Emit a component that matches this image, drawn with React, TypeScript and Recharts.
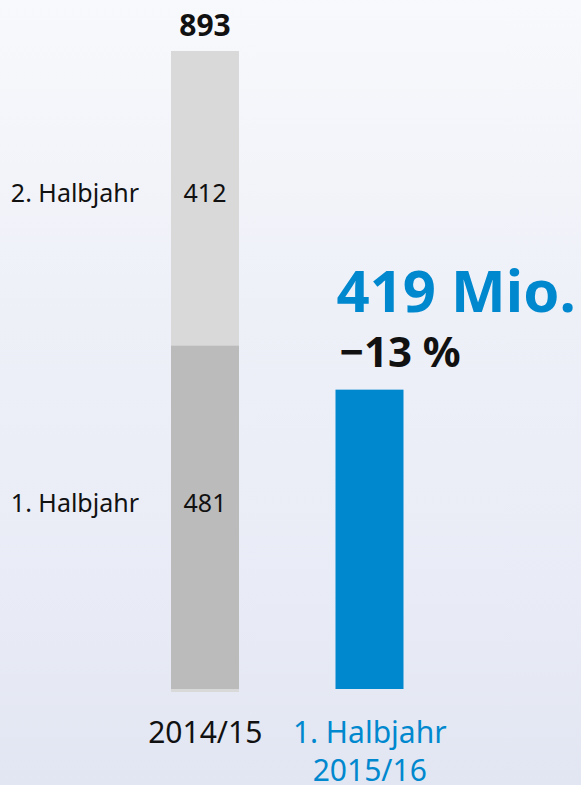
import React from "react";
import { BarChart, Bar, XAxis, YAxis, Cell, LabelList } from "recharts";

const categories = ["2014/15", "1. Halbjahr 2015/16"];
const firstHalf = [481, 419];
const secondHalf = [412, 0];
const totals = [893, 419];
const halfLabels = ["1. Halbjahr", "2. Halbjahr"];
const headline = "419 Mio.";
const change = "\u221213 %";

const data = categories.map((c, i) => ({
  name: c,
  h1: firstHalf[i],
  h2: secondHalf[i],
  total: totals[i],
}));

const FONT = "'Noto Sans', 'Open Sans', sans-serif";
const BLUE = "#0088cf";
const DARK_GRAY = "#bbbbbb";
const LIGHT_GRAY = "#d9d9d9";

const h1Colors = [DARK_GRAY, BLUE];

const Tick = (props: any) => {
  const { x, y, payload, index } = props;
  if (index === 0) {
    return (
      <text x={x} y={y + 54} textAnchor="middle" fontFamily={FONT} fontSize={30} fill="#111">
        {payload.value}
      </text>
    );
  }
  const parts = String(payload.value).split(" ");
  return (
    <g>
      <text x={x} y={y + 54} textAnchor="middle" fontFamily={FONT} fontSize={30} fill={BLUE}>
        {parts.slice(0, 2).join(" ")}
      </text>
      <text x={x} y={y + 92} textAnchor="middle" fontFamily={FONT} fontSize={30} fill={BLUE}>
        {parts.slice(2).join(" ")}
      </text>
    </g>
  );
};

const H1Shape = (props: any) => {
  const { x, y, width, height, fill, index } = props;
  return (
    <g>
      <rect x={x} y={y} width={width} height={height} fill={fill} />
      {index === 0 ? <rect x={x} y={y + height} width={width} height={3} fill={LIGHT_GRAY} /> : null}
    </g>
  );
};

const H1Label = (props: any) => {
  const { x, y, width, height, value, index } = props;
  if (index === 0) {
    const cy = y + height / 2 - 15;
    return (
      <g>
        <text x={x + width / 2} y={cy + 10} textAnchor="middle" fontFamily={FONT} fontSize={25} fill="#111">
          {value}
        </text>
        <text x={x - 32} y={cy + 10} textAnchor="end" fontFamily={FONT} fontSize={25} fill="#111">
          {halfLabels[0]}
        </text>
      </g>
    );
  }
  return (
    <g>
      <text x={x + 1} y={y - 78} textAnchor="start" fontFamily={FONT} fontSize={58} fontWeight="bold" fill={BLUE}>
        {headline}
      </text>
      <text x={x + 4} y={y - 23} textAnchor="start" fontFamily={FONT} fontSize={42} fontWeight="bold" fill="#111">
        {change}
      </text>
    </g>
  );
};

const H2Label = (props: any) => {
  const { x, y, width, height, value, index } = props;
  if (index !== 0) return null;
  const cy = y + height / 2 - 6;
  return (
    <g>
      <text x={x + width / 2} y={cy + 10} textAnchor="middle" fontFamily={FONT} fontSize={25} fill="#111">
        {value}
      </text>
      <text x={x - 32} y={cy + 10} textAnchor="end" fontFamily={FONT} fontSize={25} fill="#111">
        {halfLabels[1]}
      </text>
      <text x={x + width / 2} y={y - 15} textAnchor="middle" fontFamily={FONT} fontSize={30} fontWeight="bold" fill="#111">
        {totals[0]}
      </text>
    </g>
  );
};

export default function App() {
  return (
    <div
      style={{
        position: "absolute",
        left: 0,
        top: 0,
        width: 581,
        height: 785,
        background: "linear-gradient(to bottom, #f8f9fc 0%, #eef0f8 40%, #e9ecf6 75%, #e2e6f2 100%)",
        overflow: "hidden",
      }}
    >
      <BarChart
        width={581}
        height={785}
        data={data}
        margin={{ top: 51, right: 129, bottom: 0, left: 123 }}
        barCategoryGap={0}
      >
        <YAxis hide domain={[0, 893]} />
        <XAxis
          dataKey="name"
          axisLine={false}
          tickLine={false}
          tickSize={0}
          tickMargin={0}
          height={96}
          interval={0}
          tick={<Tick />}
        />
        <Bar dataKey="h1" stackId="a" barSize={68} isAnimationActive={false} shape={<H1Shape />}>
          {data.map((d, i) => (
            <Cell key={i} fill={h1Colors[i]} />
          ))}
          <LabelList dataKey="h1" content={<H1Label />} />
        </Bar>
        <Bar dataKey="h2" stackId="a" barSize={68} fill={LIGHT_GRAY} isAnimationActive={false}>
          <LabelList dataKey="h2" content={<H2Label />} />
        </Bar>
      </BarChart>
    </div>
  );
}
